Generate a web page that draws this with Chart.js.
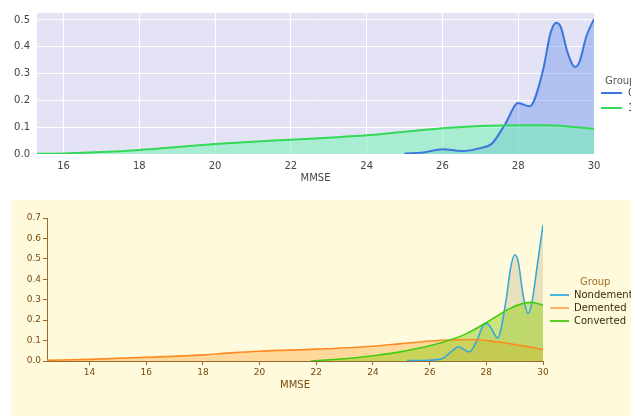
<!DOCTYPE html>
<html>
<head>
<meta charset="utf-8">
<script src="https://cdn.jsdelivr.net/npm/chart.js@4/dist/chart.umd.min.js"></script>
<style>
  body { margin: 0; width: 631px; height: 416px; overflow: hidden; background: #fff; position: relative; font-family: "DejaVu Sans", sans-serif; }
  canvas { position: absolute; }
  #top { left: 0; top: 0; }
  #bottom { left: 11px; top: 200px; background: #fffadc; }
  .lg { position: absolute; font-size: 10px; white-space: nowrap; line-height: 12px; }
  .sw { position: absolute; height: 0; }
</style>
</head>
<body>
<canvas id="top" width="631" height="195"></canvas>
<canvas id="bottom" width="620" height="216"></canvas>

<!-- legend for top chart -->
<div class="lg" style="left:605px; top:75px; color:#555;">Group</div>
<div class="sw" style="left:601px; top:92px; width:21px; border-top:2px solid #3a76dd;"></div>
<div class="lg" style="left:628px; top:87px; color:#444;">0</div>
<div class="sw" style="left:601px; top:107px; width:21px; border-top:2px solid #33d957;"></div>
<div class="lg" style="left:628px; top:102px; color:#444;">1</div>

<!-- legend for bottom chart -->
<div class="lg" style="left:580px; top:276px; color:#a0702a;">Group</div>
<div class="sw" style="left:550px; top:294px; width:19px; border-top:2px solid #4ab4e0;"></div>
<div class="lg" style="left:574px; top:289px; color:#3a2a10;">Nondemented</div>
<div class="sw" style="left:550px; top:307px; width:19px; border-top:2px solid #ffb060;"></div>
<div class="lg" style="left:574px; top:302px; color:#3a2a10;">Demented</div>
<div class="sw" style="left:550px; top:320px; width:19px; border-top:2px solid #55d020;"></div>
<div class="lg" style="left:574px; top:315px; color:#3a2a10;">Converted</div>

<script>
// top chart: density of MMSE per group 0 / 1
const grp0X = [25.0, 25.5, 26.0, 26.5, 27.0, 27.3, 27.65, 28.0, 28.3, 28.65, 28.85, 29.0, 29.12, 29.3, 29.5, 29.62, 29.8, 30.0];
const grp0Y = [0.002, 0.006, 0.018, 0.011, 0.022, 0.038, 0.11, 0.19, 0.178, 0.31, 0.45, 0.49, 0.475, 0.38, 0.325, 0.345, 0.44, 0.503];
const grp1X = [15.3, 16, 17, 18, 19, 20, 21, 22, 23, 24, 25, 26, 27, 28, 28.7, 29.3, 30];
const grp1Y = [0.001, 0.002, 0.007, 0.015, 0.026, 0.037, 0.046, 0.053, 0.061, 0.07, 0.083, 0.096, 0.104, 0.107, 0.107, 0.103, 0.094];
const topXTicks = [16, 18, 20, 22, 24, 26, 28, 30];
const topYTicks = [0, 0.1, 0.2, 0.3, 0.4, 0.5];

// bottom chart: density of MMSE per group name
const nondX = [25.2, 26.0, 26.45, 26.8, 27.0, 27.4, 27.7, 27.85, 28.0, 28.15, 28.4, 28.7, 28.85, 29.0, 29.12, 29.3, 29.47, 29.6, 29.8, 30.0];
const nondY = [0.002, 0.004, 0.012, 0.05, 0.069, 0.044, 0.11, 0.165, 0.184, 0.165, 0.113, 0.3, 0.45, 0.52, 0.49, 0.32, 0.233, 0.28, 0.47, 0.667];
const demX = [12.5, 14, 16, 18, 19, 20, 22, 24, 25, 26, 27, 27.5, 28.4, 29.3, 30];
const demY = [0.003, 0.008, 0.018, 0.03, 0.04, 0.048, 0.058, 0.072, 0.085, 0.098, 0.104, 0.105, 0.093, 0.074, 0.057];
const convX = [21.8, 23, 24, 25, 26, 26.5, 27.3, 28.2, 28.8, 29.3, 29.6, 30];
const convY = [0.0, 0.011, 0.026, 0.046, 0.075, 0.093, 0.134, 0.205, 0.255, 0.282, 0.287, 0.274];
const bottomXTicks = [14, 16, 18, 20, 22, 24, 26, 28, 30];
const bottomYTicks = [0, 0.1, 0.2, 0.3, 0.4, 0.5, 0.6, 0.7];

function toPoints (xs, ys) {
  return xs.map((x, i) => ({ x: x, y: ys[i] }));
}

// paints the plot area background
const areaBg = {
  id: 'areaBg',
  beforeDraw (chart, args, opts) {
    const a = chart.chartArea;
    const ctx = chart.ctx;
    ctx.save();
    ctx.fillStyle = opts.color;
    ctx.fillRect(a.left, a.top, a.right - a.left, a.bottom - a.top);
    ctx.restore();
  }
};

/**
 * Each group gets a fill-only dataset (drawn underneath) and a line-only
 * dataset (drawn on top), so every curve stays visible over the fills
 */
function densitySets (label, xs, ys, line, fill, width, order) {
  const pts = toPoints(xs, ys);
  return [
    { label: label + ' fill', data: pts, pointRadius: 0, cubicInterpolationMode: 'monotone',
      fill: 'origin', backgroundColor: fill, borderWidth: 0, borderColor: 'rgba(0,0,0,0)', order: order + 10 },
    { label: label, data: pts, pointRadius: 0, cubicInterpolationMode: 'monotone',
      fill: false, borderColor: line, borderWidth: width, order: order }
  ];
}

new Chart(document.getElementById('top'), {
  type: 'line',
  data: {
    datasets: [].concat(
      densitySets('0', grp0X, grp0Y, '#3a76dd', 'rgba(81, 127, 231, 0.35)', 2, 2),
      densitySets('1', grp1X, grp1Y, '#33d957', 'rgba(110, 245, 175, 0.5)', 2, 1)
    )
  },
  options: {
    responsive: false,
    animation: false,
    layout: { padding: { top: 6, right: 37, left: 0, bottom: 0 } },
    plugins: {
      legend: { display: false },
      tooltip: { enabled: false },
      areaBg: { color: '#e3e3f5' }
    },
    scales: {
      x: {
        type: 'linear',
        min: 15.3,
        max: 30,
        afterBuildTicks: s => { s.ticks = topXTicks.map(v => ({ value: v })); },
        afterFit: s => { s.height = 41; },
        grid: { color: '#ffffff', lineWidth: 1, drawTicks: false },
        border: { display: false },
        ticks: { color: '#444', font: { family: 'DejaVu Sans', size: 10 }, padding: 6, maxRotation: 0 },
        title: { display: true, text: 'MMSE', color: '#444', font: { family: 'DejaVu Sans', size: 10 }, padding: { top: 0, bottom: 11 } }
      },
      y: {
        min: 0,
        max: 0.526,
        afterBuildTicks: s => { s.ticks = topYTicks.map(v => ({ value: v })); },
        afterFit: s => { s.width = 37; },
        grid: { color: '#ffffff', lineWidth: 1, drawTicks: false },
        border: { display: false },
        ticks: { color: '#444', font: { family: 'DejaVu Sans', size: 10 }, padding: 7, callback: v => v.toFixed(1) }
      }
    }
  },
  plugins: [areaBg]
});

const brown = '#9a6a2a';

new Chart(document.getElementById('bottom'), {
  type: 'line',
  data: {
    datasets: [].concat(
      densitySets('Nondemented', nondX, nondY, '#3aa8d8', 'rgba(190, 180, 130, 0.35)', 1.6, 3),
      densitySets('Demented', demX, demY, '#ff8a20', 'rgba(255, 160, 50, 0.38)', 1.6, 2),
      densitySets('Converted', convX, convY, '#44cc11', 'rgba(150, 205, 30, 0.5)', 1.6, 1)
    )
  },
  options: {
    responsive: false,
    animation: false,
    layout: { padding: { top: 18, right: 88, left: 0, bottom: 0 } },
    plugins: {
      legend: { display: false },
      tooltip: { enabled: false },
      areaBg: { color: '#fffadc' }
    },
    scales: {
      x: {
        type: 'linear',
        min: 12.5,
        max: 30,
        afterBuildTicks: s => { s.ticks = bottomXTicks.map(v => ({ value: v })); },
        afterFit: s => { s.height = 55; },
        grid: { display: true, drawOnChartArea: false, drawTicks: true, tickLength: 4, color: brown },
        border: { display: true, color: brown, width: 1 },
        ticks: { color: '#7a4a10', font: { family: 'DejaVu Sans', size: 9 }, padding: 2, maxRotation: 0 },
        title: { display: true, text: 'MMSE', color: '#7a4a10', font: { family: 'DejaVu Sans', size: 10 }, padding: { top: 0, bottom: 25 } }
      },
      y: {
        min: 0,
        max: 0.7,
        afterBuildTicks: s => { s.ticks = bottomYTicks.map(v => ({ value: v })); },
        afterFit: s => { s.width = 36; },
        grid: { display: true, drawOnChartArea: false, drawTicks: true, tickLength: 4, color: brown },
        border: { display: true, color: brown, width: 1 },
        ticks: { color: '#7a4a10', font: { family: 'DejaVu Sans', size: 9 }, padding: 2, callback: v => v.toFixed(1) }
      }
    }
  },
  plugins: [areaBg]
});
</script>
</body>
</html>
